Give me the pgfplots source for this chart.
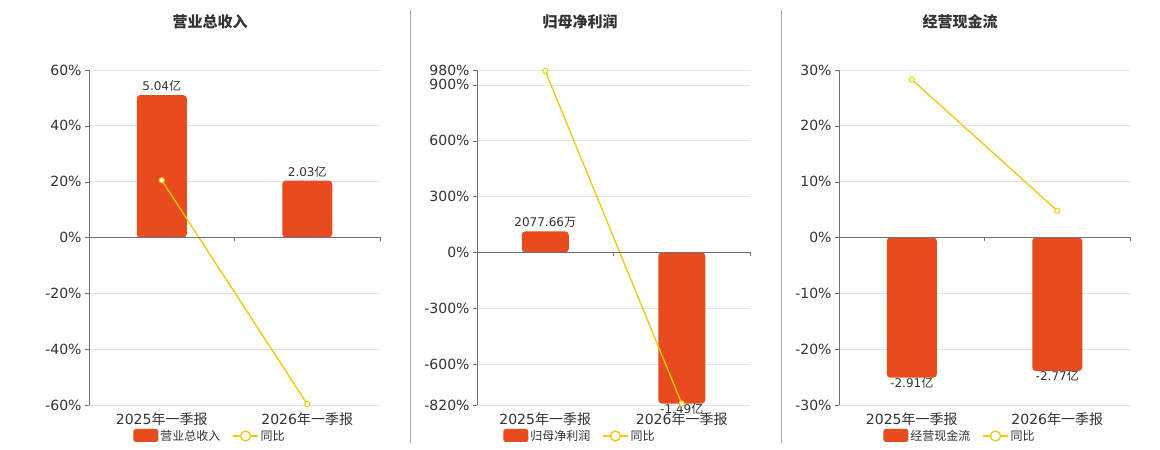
\documentclass[border=0pt]{standalone}
\usepackage{pgfplots}
\pgfplotsset{compat=1.18}
\usepackage{fontspec}
\setmainfont{DejaVu Sans}
\newfontfamily\cjk{Noto Sans CJK SC}

\definecolor{barc}{RGB}{232,76,30}
\definecolor{linec}{RGB}{242,200,12}
\definecolor{gridc}{RGB}{224,230,241}
\definecolor{axc}{RGB}{110,112,121}
\definecolor{txt}{RGB}{51,51,51}
\definecolor{sepc}{RGB}{170,170,170}

\pgfplotsset{
  panel/.style={
    scale only axis,
    anchor=north west,
    height=335pt,
    xmin=-0.5, xmax=1.5,
    xtick={0,1},
    xticklabels={2025{\cjk 年一季报},2026{\cjk 年一季报}},
    axis y line*=left,
    axis x line*=bottom,
    x axis line style={draw=none},
    xtick style={draw=none},
    y axis line style={axc, line width=0.8pt},
    ytick style={axc},
    major tick length=4pt,
    tick align=outside,
    ymajorgrids,
    grid style={gridc, line width=0.7pt},
    tick label style={font=\fontsize{14}{16}\selectfont, text=txt},
    /pgf/number format/assume math mode=true,
    yticklabel={\pgfmathprintnumber{\tick}\%},
    clip=false,
    legend columns=2,
    legend cell align=left,
    legend style={draw=none, fill=none, font=\fontsize{12}{14}\selectfont\cjk, text=txt,
      /tikz/every even column/.append style={column sep=10pt}},
  },
  barplot/.style={ybar, bar shift=0pt, fill=barc, draw=none, rounded corners=3.5pt,
    nodes near coords, point meta=explicit symbolic,
    every node near coord/.append style={font=\fontsize{12}{14}\selectfont, text=txt},
    legend image code/.code={\fill[barc, rounded corners=2.5pt] (0pt,-6pt) rectangle (25pt,7pt);}},
  negbar/.style={every node near coord/.append style={anchor=north, yshift=4pt}},
  lineplot/.style={linec, line width=1.3pt, mark=*, mark size=2.6pt,
    mark options={fill=white, draw=linec, line width=1pt},
    legend image code/.code={\draw[linec, line width=1.3pt] (0pt,0pt) -- (25pt,0pt);
      \draw[linec, line width=1.3pt, fill=white] (12.5pt,0pt) circle (5pt);}},
}

\begin{document}
\begin{tikzpicture}
\useasboundingbox[fill=white] (0,0) rectangle (1160pt,-450pt);

% separators
\draw[sepc, line width=0.8pt] (410pt,-10pt) -- (410pt,-443pt);
\draw[sepc, line width=0.8pt] (781pt,-10pt) -- (781pt,-443pt);

% titles
\node[font=\cjk\bfseries\fontsize{15}{18}\selectfont, text=txt] at (210pt,-22pt) {营业总收入};
\node[font=\cjk\bfseries\fontsize{15}{18}\selectfont, text=txt] at (580pt,-22pt) {归母净利润};
\node[font=\cjk\bfseries\fontsize{15}{18}\selectfont, text=txt] at (960pt,-22pt) {经营现金流};

% panel 1
\begin{axis}[panel, at={(89pt,-70pt)}, width=291pt,
  ymin=-60, ymax=60, ytick={-60,-40,...,60},
  legend style={at={(0.416,-0.0925)}, anchor=center}]
\addplot[barplot, bar width=50pt] coordinates {(0,51) [5.04{\cjk 亿}] (1,20.4) [2.03{\cjk 亿}]};
\addlegendentry{营业总收入}
\addplot[lineplot] coordinates {(0,20.5) (1,-59.7)};
\addlegendentry{同比}
\draw[axc, line width=1.5pt] (axis cs:-0.5,0) -- (axis cs:1.5,0);
\draw[axc, line width=0.8pt] (axis cs:0.5,0) -- ++(0pt,-4pt);
\draw[axc, line width=0.8pt] (axis cs:1.5,0) -- ++(0pt,-4pt);
\end{axis}

% panel 2
\begin{axis}[panel, at={(477pt,-70pt)}, width=273pt,
  ymin=-820, ymax=980, ytick={-820,-600,-300,0,300,600,900,980},
  legend style={at={(0.377,-0.0925)}, anchor=center}]
\addplot[barplot, bar width=47pt] coordinates {(0,113) [2077.66{\cjk 万}]};
\addlegendentry{归母净利润}
\addplot[barplot, negbar, bar width=47pt, forget plot] coordinates {(1,-812) [-1.49{\cjk 亿}]};
\addplot[lineplot] coordinates {(0,975) (1,-812)};
\addlegendentry{同比}
\draw[axc, line width=1.5pt] (axis cs:-0.5,0) -- (axis cs:1.5,0);
\draw[axc, line width=0.8pt] (axis cs:0.5,0) -- ++(0pt,-4pt);
\draw[axc, line width=0.8pt] (axis cs:1.5,0) -- ++(0pt,-4pt);
\end{axis}

% panel 3
\begin{axis}[panel, at={(839pt,-70pt)}, width=291pt,
  ymin=-30, ymax=30, ytick={-30,-20,...,30},
  legend style={at={(0.416,-0.0925)}, anchor=center}]
\addplot[barplot, negbar, bar width=50pt] coordinates {(0,-25.1) [-2.91{\cjk 亿}] (1,-23.9) [-2.77{\cjk 亿}]};
\addlegendentry{经营现金流}
\addplot[lineplot] coordinates {(0,28.3) (1,4.8)};
\addlegendentry{同比}
\draw[axc, line width=1.5pt] (axis cs:-0.5,0) -- (axis cs:1.5,0);
\draw[axc, line width=0.8pt] (axis cs:0.5,0) -- ++(0pt,-4pt);
\draw[axc, line width=0.8pt] (axis cs:1.5,0) -- ++(0pt,-4pt);
\end{axis}
\end{tikzpicture}
\end{document}
